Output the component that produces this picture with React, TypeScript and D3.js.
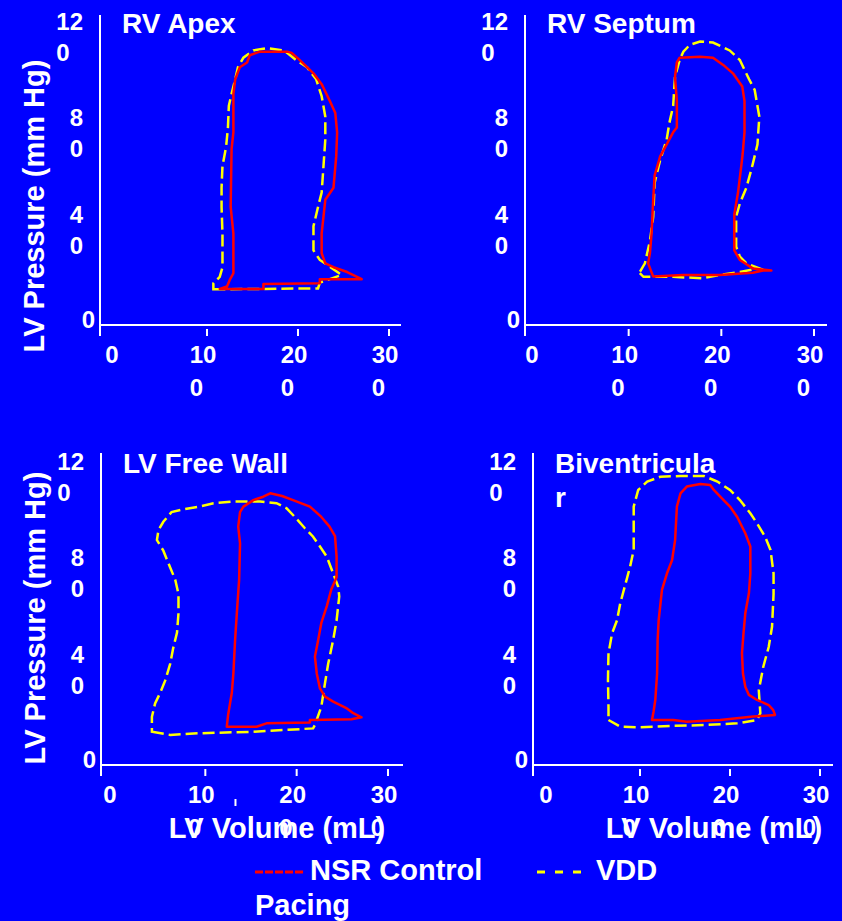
import * as d3 from 'd3';

type Pt = [number, number];

// panel titles (as wrapped on the slide)
const panelTitles: string[][] = [['RV Apex'], ['RV Septum'], ['LV Free Wall'], ['Biventricula', 'r']];

// axis ticks and their (wrapped) labels
const xTicks = [0, 100, 200, 300];
const xTickLabels: string[][] = [['0'], ['10', '0'], ['20', '0'], ['30', '0']];
const yTicks = [0, 40, 80, 120];
const yTickLabels: string[][] = [['0'], ['4', '0'], ['8', '0'], ['12', '0']];

const seriesNames = ['NSR Control', 'Pacing', 'VDD'];

// LV volume (mL), LV pressure (mm Hg) — NSR control
const nsrApex: Pt[] = [
  [114, 15], [162, 15], [162, 17], [224, 17.3], [224, 19], [270, 19], [254, 22], [239, 24], [230, 25.6],
  [226, 29.8], [226, 38], [230, 52], [239, 57], [242, 70], [243, 80], [241, 88], [235, 93], [226, 100],
  [217, 104.5], [202, 110], [193, 113], [188, 113.5], [158, 113.5], [147, 112], [144, 109], [136, 107],
  [131, 102], [129, 96], [129, 80], [127, 73], [126, 49], [129, 38], [129, 21.5], [125, 18.7], [122, 16],
];
const nsrSeptum: Pt[] = [
  [126.5, 20.1], [158.7, 20.8], [198, 20.8], [234, 21.7], [245, 22.6], [254, 22.6], [234, 23.5], [220, 27],
  [214, 31], [214, 38], [214, 46], [218, 55], [221.5, 66], [223, 71], [225, 80], [225, 86.5], [225, 93],
  [222.6, 99], [212.5, 104.5], [202, 108], [191, 111], [177, 111.4], [155, 111], [152, 109], [150, 103],
  [152, 93], [152, 82], [148, 80], [141, 75], [134, 70], [128, 62], [126.5, 52], [124.7, 38], [123, 30],
  [121, 25.6],
];
const nsrFreeWall: Pt[] = [
  [123.5, 15.9], [156, 15.9], [167, 17.3], [214.5, 17.6], [214.5, 18.7], [260, 19], [271, 19.8], [262, 21.5],
  [255, 23.5], [240, 26.3], [231, 28.4], [225.5, 31.8], [222, 38], [220, 45], [223.6, 52], [227, 59], [233, 66],
  [238, 73], [243.7, 78], [243.7, 86.5], [242, 95], [236, 99], [227, 103], [214.5, 107.3], [196, 110],
  [184, 111.7], [171, 112.8], [163.5, 111.4], [152.6, 110], [141.7, 107.3], [138, 105], [136, 99], [138, 92],
  [137, 77], [135, 66], [132.6, 52], [130.7, 38], [129, 30], [125, 21],
];
const nsrBiv: Pt[] = [
  [113.3, 18.7], [137, 18.7], [152, 18], [189, 18.7], [226, 20.1], [250, 20.8], [248, 22.8], [243, 24.9],
  [230, 27], [221, 29.1], [217, 32.5], [214.4, 38], [213.3, 46.4], [215, 54.7], [217, 63], [221, 71.3],
  [222.6, 79.6], [222.6, 90.7], [217, 96.2], [208, 103], [200, 107.3], [191, 110.7], [182, 114.2], [178, 116.3],
  [167, 116.7], [152, 115.6], [145, 112.8], [141, 107.3], [139, 93.4], [135.6, 85], [130, 79.6], [124.4, 72.7],
  [120.7, 60], [119.6, 52], [119, 38], [117, 27], [115, 22],
];

// VDD pacing
const vddApex: Pt[] = [
  [107, 14.8], [222, 15.2], [224, 17.6], [248, 20.8], [235, 24.2], [224, 27], [217, 31], [217, 41], [222, 49],
  [226, 55], [228, 66], [230, 77], [230, 86.5], [226, 95], [220, 102], [210, 107], [198, 110], [188, 113],
  [184, 114], [166, 115], [151, 114], [140, 111], [134, 107], [131, 102], [127, 96], [124, 91], [123, 82],
  [121, 74], [117, 66], [116, 57], [116, 49], [117, 38], [117, 24], [114, 20], [107, 17.3],
];
const vddSeptum: Pt[] = [
  [112, 21.5], [116, 20], [148, 20], [180, 19.4], [198, 20.8], [220, 22], [241, 23.5], [227, 25.6], [220, 28.4],
  [216, 32.5], [216, 45], [220, 50.5], [227, 57], [232, 64], [234, 67], [239, 75], [241, 86.5], [236, 97.6],
  [230, 102], [220, 110], [209, 114], [191, 117.3], [177, 117.7], [166, 116.3], [159, 113.5], [155, 110],
  [150, 103], [148, 91], [144, 84], [141, 77], [134, 68.5], [128, 59], [126.5, 45], [123, 35], [117.5, 25.6],
  [112, 22],
];
const vddFreeWall: Pt[] = [
  [41.5, 13.8], [61.5, 12.5], [94, 13.2], [152.6, 13.8], [185, 14.5], [218, 15.2], [220, 16.6], [227, 24.2],
  [231, 34], [234.5, 42], [240, 52], [243.7, 60], [246.6, 70], [245.5, 74], [233, 86.5], [225.5, 90.7],
  [218, 94.8], [209, 98.3], [198, 103], [189, 106.6], [178, 108.7], [160, 109.4], [131, 109.4], [109, 108.7],
  [94, 107.3], [74, 106], [63, 105], [54, 101], [48.7, 97.6], [47, 93.4], [54, 89], [61.5, 82], [67, 77],
  [70.6, 71], [70.6, 63], [69, 55], [64.5, 48], [61.5, 42], [56, 35], [50.6, 30], [45, 25.6], [41.5, 20],
];
const vddBiv: Pt[] = [
  [65, 18.7], [78, 15.9], [97, 15.6], [134, 16.2], [171, 16.6], [208, 17.3], [230, 18.7], [233.7, 21.5],
  [232, 31], [237, 40.8], [243, 49], [246.7, 57.4], [248.4, 71], [248.4, 79.6], [245, 89.3], [239, 94.8],
  [230, 100.4], [222.6, 104.5], [211, 110], [200, 114.2], [186, 117.7], [171, 120], [145, 120], [122.6, 119.7],
  [108, 117.7], [98, 114.2], [93, 107.3], [93, 89.3], [89, 82.4], [84, 75.4], [78, 67], [74.4, 60], [69, 54.7],
  [65, 46.4], [64.4, 35.3], [65, 24.2],
];

const nsrSeries = [nsrApex, nsrSeptum, nsrFreeWall, nsrBiv];
const vddSeries = [vddApex, vddSeptum, vddFreeWall, vddBiv];

// layout of the four panels on the slide
const panels = [
  { axisX: 100, x0: 116, x300: 389, right: 401, y0: 325, top: 15, yTitle: 206, xTitle: 0, showX: false, showY: true },
  { axisX: 525, x0: 536, x300: 814, right: 827, y0: 325, top: 15, yTitle: 206, xTitle: 0, showX: false, showY: false },
  { axisX: 101, x0: 114, x300: 388, right: 403, y0: 765, top: 453, yTitle: 618, xTitle: 277, showX: true, showY: true },
  { axisX: 533, x0: 550, x300: 820, right: 833, y0: 765, top: 453, yTitle: 618, xTitle: 714, showX: true, showY: false },
];

const BG = '#0000FF';
const RED = '#FF0000';
const YELLOW = '#FFFF00';
const FONT = '"Liberation Sans", Arial, Helvetica, sans-serif';
const digitW = 0.556 * 24;

function Panel({ idx }: { idx: number }) {
  const p = panels[idx];
  const x = d3.scaleLinear().domain([0, 300]).range([p.x0, p.x300]);
  const y = d3.scaleLinear().domain([0, 120]).range([p.y0, p.y0 - 289]);
  const line = d3.line<Pt>().x(d => x(d[0])).y(d => y(d[1])).curve(d3.curveLinearClosed);
  const titleLeft = p.axisX + 22;
  const titleBase = p.y0 - 292;

  return (
    <g>
      {/* axes */}
      <line x1={p.axisX} x2={p.axisX} y1={p.top} y2={p.y0 + 11} stroke="#fff" strokeWidth={2} />
      <line x1={p.axisX} x2={p.right} y1={p.y0} y2={p.y0} stroke="#fff" strokeWidth={2} />
      {xTicks.filter(v => v > 0).map(v => (
        <line key={v} x1={x(v)} x2={x(v)} y1={p.y0 + 4} y2={p.y0 + 11} stroke="#fff" strokeWidth={2} />
      ))}

      {/* x tick labels */}
      {xTicks.map((v, i) => {
        const lines = xTickLabels[i];
        const cx = x(v) - 4;
        const left = cx - (lines[0].length * digitW) / 2;
        return (
          <text key={v} fontSize={24} fontWeight="bold" fill="#fff" fontFamily={FONT}>
            <tspan x={cx} y={p.y0 + 38} textAnchor="middle">{lines[0]}</tspan>
            {lines[1] && <tspan x={left} y={p.y0 + 71} textAnchor="start">{lines[1]}</tspan>}
          </text>
        );
      })}
      {/* stray glyph under the axis of the bottom-left slide panel */}
      {idx === 2 && <line x1={x(133)} x2={x(133)} y1={p.y0 + 34} y2={p.y0 + 41} stroke="#fff" strokeWidth={2} />}

      {/* y tick labels */}
      {yTicks.map((v, i) => {
        const lines = yTickLabels[i];
        if (lines.length === 1) {
          return (
            <text key={v} x={p.axisX - 5} y={y(v) + 3} textAnchor="end" fontSize={24} fontWeight="bold"
              fill="#fff" fontFamily={FONT}>{lines[0]}</text>
          );
        }
        const rightEdge = p.axisX - 17;
        const left = rightEdge - lines[0].length * digitW;
        return (
          <text key={v} fontSize={24} fontWeight="bold" fill="#fff" fontFamily={FONT}>
            <tspan x={rightEdge} y={y(v) - 6} textAnchor="end">{lines[0]}</tspan>
            <tspan x={left} y={y(v) + 25} textAnchor="start">{lines[1]}</tspan>
          </text>
        );
      })}

      {/* title */}
      <text fontSize={28} fontWeight="bold" fill="#fff" fontFamily={FONT}>
        {panelTitles[idx].map((t, k) => (
          <tspan key={k} x={titleLeft} y={titleBase + k * 34}>{t}</tspan>
        ))}
      </text>

      {/* loops */}
      <path d={line(vddSeries[idx]) ?? ''} fill="none" stroke={YELLOW} strokeWidth={2.5} strokeDasharray="12 5" />
      <path d={line(nsrSeries[idx]) ?? ''} fill="none" stroke={RED} strokeWidth={2.5} strokeLinejoin="round" />

      {p.showY && (
        <text transform={`translate(${p.axisX - 56},${p.yTitle}) rotate(-90)`} textAnchor="middle"
          fontSize={29} fontWeight="bold" fill="#fff" fontFamily={FONT}>LV Pressure (mm Hg)</text>
      )}
      {p.showX && (
        <text x={p.xTitle} y={p.y0 + 73} textAnchor="middle" fontSize={29}
          fontWeight="bold" fill="#fff" fontFamily={FONT}>LV Volume (mL)</text>
      )}
    </g>
  );
}

export default function App() {
  return (
    <div style={{ position: 'absolute', left: 0, top: 0 }}>
      <svg width={842} height={921} style={{ display: 'block' }}>
        <rect width={842} height={921} fill={BG} />
        {panels.map((_, i) => <Panel key={i} idx={i} />)}

        {/* legend */}
        <line x1={255} x2={305} y1={872} y2={872} stroke={RED} strokeWidth={3} strokeDasharray="8 2" />
        <text x={310} y={880} fontSize={29} fontWeight="bold" fill="#fff" fontFamily={FONT}>{seriesNames[0]}</text>
        <text x={255} y={915} fontSize={29} fontWeight="bold" fill="#fff" fontFamily={FONT}>{seriesNames[1]}</text>
        <line x1={537} x2={581} y1={872} y2={872} stroke={YELLOW} strokeWidth={3} strokeDasharray="8 10" />
        <text x={596} y={880} fontSize={29} fontWeight="bold" fill="#fff" fontFamily={FONT}>{seriesNames[2]}</text>
      </svg>
    </div>
  );
}
